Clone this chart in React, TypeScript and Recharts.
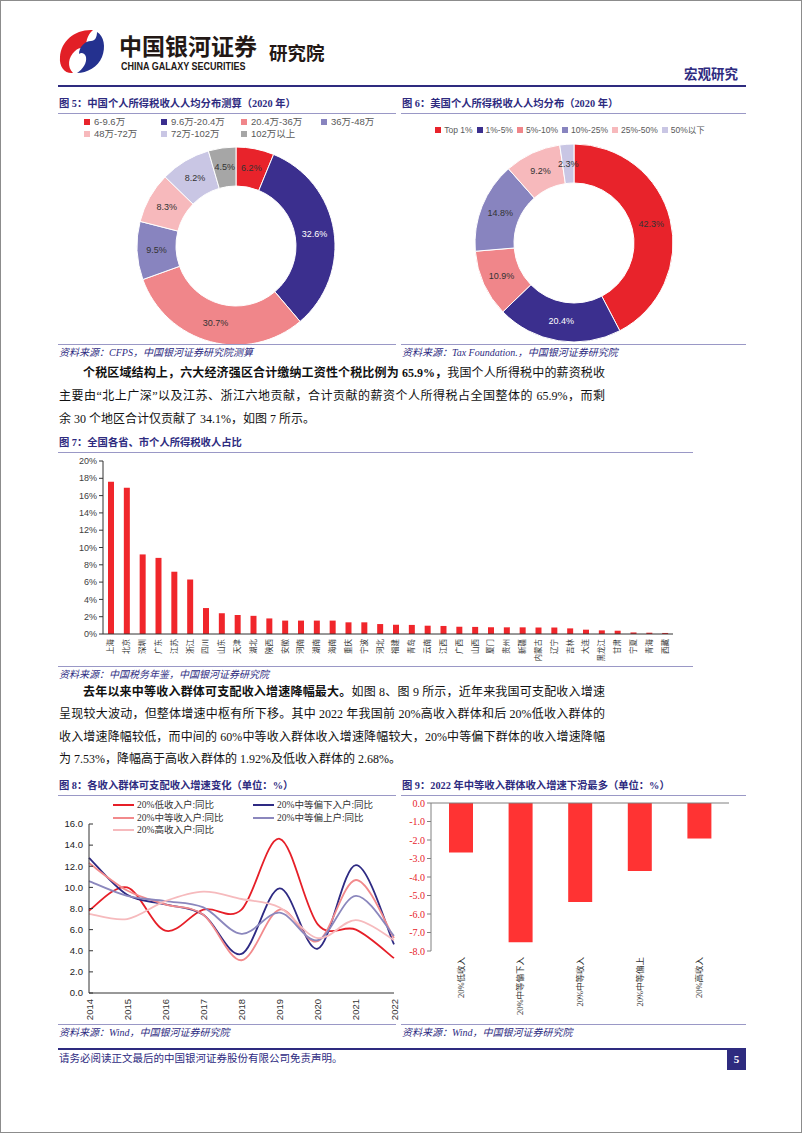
import React from "react";
import { PieChart, Pie, Cell, BarChart, Bar, XAxis, YAxis, LineChart, Line, ReferenceLine } from "recharts";

// 图5 / 图6 donut data
const cnBrackets = ["6-9.6万", "9.6万-20.4万", "20.4万-36万", "36万-48万", "48万-72万", "72万-102万", "102万以上"];
const cnShares = [6.2, 32.6, 30.7, 9.5, 8.3, 8.2, 4.5];
const usBrackets = ["Top 1%", "1%-5%", "5%-10%", "10%-25%", "25%-50%", "50%以下"];
const usShares = [42.3, 20.4, 10.9, 14.8, 9.2, 2.3];
const pieColors = ["#e8232b", "#3b2f8e", "#f0868a", "#8884bf", "#f7b9bc", "#c9c6e4", "#a6a6a6"];

// 图7 regional share of individual income tax (%)
const regions = [
  "上海", "北京", "深圳", "广东", "江苏", "浙江", "四川", "山东", "天津", "湖北", "陕西", "安徽",
  "河南", "湖南", "海南", "重庆", "宁波", "河北", "福建", "青岛", "云南", "江西", "广西", "山西",
  "厦门", "贵州", "新疆", "内蒙古", "辽宁", "吉林", "大连", "黑龙江", "甘肃", "宁夏", "青海", "西藏",
];
const regionShares = [
  17.6, 16.9, 9.2, 8.8, 7.2, 6.3, 3.0, 2.4, 2.2, 2.1, 1.8, 1.55,
  1.55, 1.55, 1.55, 1.35, 1.35, 1.15, 1.07, 1.05, 0.96, 0.93, 0.84, 0.82,
  0.78, 0.77, 0.77, 0.75, 0.75, 0.65, 0.5, 0.42, 0.38, 0.18, 0.15, 0.12,
];
const regionTicks = [0, 2, 4, 6, 8, 10, 12, 14, 16, 18, 20];

// 图8 disposable income growth by quintile (%)
const years = ["2014", "2015", "2016", "2017", "2018", "2019", "2020", "2021", "2022"];
const lowIncome = [7.8, 10.0, 5.9, 7.9, 7.9, 14.6, 6.5, 6.0, 3.3];
const lowerMiddle = [12.8, 9.3, 8.4, 7.4, 3.7, 9.9, 4.2, 12.1, 4.6];
const middleIncome = [12.3, 9.7, 8.4, 7.4, 3.1, 7.9, 4.9, 10.7, 5.2];
const upperMiddle = [10.6, 9.2, 8.7, 8.1, 5.6, 7.6, 5.0, 9.2, 5.4];
const highIncome = [7.5, 7.0, 8.7, 9.6, 8.9, 8.1, 5.2, 6.9, 5.0];
const growthTicks = [0, 2, 4, 6, 8, 10, 12, 14, 16];

// 图9 2022 change in growth (pct pts)
const groups = ["20%低收入", "20%中等偏下入", "20%中等收入", "20%中等偏上", "20%高收入"];
const declines = [-2.68, -7.53, -5.35, -3.68, -1.92];
const declineTicks = [0, -1, -2, -3, -4, -5, -6, -7, -8];

const NAVY = "#2e2b7f";
const SERIF = '"Liberation Serif", "Noto Sans CJK SC", serif';
const SANS = 'Arial, "Liberation Sans", "Noto Sans CJK SC", sans-serif';
const CJK = '"Noto Sans CJK SC", sans-serif';
const RULE = "#9a98c6";

const lineSeries = [
  { key: "low", name: "20%低收入户:同比", values: lowIncome, color: "#e61f28" },
  { key: "lowerMid", name: "20%中等偏下入户:同比", values: lowerMiddle, color: "#2e2a83" },
  { key: "mid", name: "20%中等收入户:同比", values: middleIncome, color: "#f28a8c" },
  { key: "upperMid", name: "20%中等偏上户:同比", values: upperMiddle, color: "#8b87bd" },
  { key: "high", name: "20%高收入户:同比", values: highIncome, color: "#f6babd" },
];

// Excel-like smoothed line (Catmull-Rom through the points)
const excelSmooth = (context: any) => {
  let pts: number[][] = [];
  return {
    areaStart() {},
    areaEnd() {},
    lineStart() {
      pts = [];
    },
    point(x: number, y: number) {
      pts.push([+x, +y]);
    },
    lineEnd() {
      if (!pts.length) return;
      context.moveTo(pts[0][0], pts[0][1]);
      for (let i = 0; i < pts.length - 1; i++) {
        const p0 = pts[i - 1] || pts[i];
        const p1 = pts[i];
        const p2 = pts[i + 1];
        const p3 = pts[i + 2] || p2;
        context.bezierCurveTo(
          p1[0] + (p2[0] - p0[0]) / 6,
          p1[1] + (p2[1] - p0[1]) / 6,
          p2[0] - (p3[0] - p1[0]) / 6,
          p2[1] - (p3[1] - p1[1]) / 6,
          p2[0],
          p2[1]
        );
      }
    },
  };
};

// labels sit in the middle of the ring; white on the dark navy slice
const renderPieLabel = (p: any) => {
  const rad = Math.PI / 180;
  const r = (p.innerRadius + p.outerRadius) / 2;
  const x = p.cx + r * Math.cos(-p.midAngle * rad);
  const y = p.cy + r * Math.sin(-p.midAngle * rad);
  const onDark = p.index === 1;
  return (
    <text x={x} y={y} textAnchor="middle" dominantBaseline="central" fontSize={9} fill={onDark ? "#fff" : "#333"} fontFamily={SANS}>
      {Number(p.value).toFixed(1)}%
    </text>
  );
};

const VerticalTick = ({ x, y, payload, size, gap, font }: any) => (
  <text
    transform={`translate(${x},${y + gap}) rotate(-90)`}
    textAnchor="end"
    dominantBaseline="central"
    fontSize={size}
    fill="#333"
    fontFamily={font}
  >
    {payload.value}
  </text>
);

const abs = (left: number, top: number, extra: React.CSSProperties = {}): React.CSSProperties => ({
  position: "absolute",
  left,
  top,
  ...extra,
});

function FigTitle({ x, y, w, text }: { x: number; y: number; w: number; text: string }) {
  return (
    <>
      <div style={abs(x + 1, y - 8, { fontSize: 10.3, fontWeight: 700, color: NAVY, fontFamily: SERIF, whiteSpace: "nowrap", lineHeight: "16px" })}>
        {text}
      </div>
      <div style={abs(x, y + 9, { width: w, height: 1, background: RULE })} />
    </>
  );
}

function Source({ x, y, w, text }: { x: number; y: number; w: number; text: string }) {
  return (
    <>
      <div style={abs(x, y - 9, { width: w, height: 1, background: RULE })} />
      <div style={abs(x + 1, y - 7, { fontSize: 10, fontStyle: "italic", color: NAVY, fontFamily: SERIF, whiteSpace: "nowrap", lineHeight: "14px" })}>
        {text}
      </div>
    </>
  );
}

function TextRow({ y, justify, indent, children }: { y: number; justify?: boolean; indent?: boolean; children: React.ReactNode }) {
  return (
    <div
      style={abs(58, y - 8, {
        width: 546,
        fontSize: 12,
        lineHeight: "16px",
        fontFamily: SERIF,
        color: "#111",
        whiteSpace: "nowrap",
        textIndent: indent ? 24 : 0,
        textAlign: justify ? "justify" : "left",
        textAlignLast: justify ? "justify" : "left",
      })}
    >
      {children}
    </div>
  );
}

function Logo() {
  return (
    <svg width={50} height={48} viewBox="0 0 50 48" style={abs(56, 26)}>
      <path d="M36 3 C18 2 4 14 3 30 C2 40 8 47 16 46 C10 40 11 30 18 24 C22 20 27 20 30 22 C28 16 30 8 36 3 Z" fill="#e21f26" />
      <path d="M40 5 C47 9 49 20 45 30 C41 40 30 46 20 46 C26 42 30 36 29 30 C28 26 24 25 22 27 C22 20 28 14 34 14 C38 14 40 10 40 5 Z" fill="#24318f" />
    </svg>
  );
}

export default function App() {
  const cnData = cnBrackets.map((name, i) => ({ name, value: cnShares[i] }));
  const usData = usBrackets.map((name, i) => ({ name, value: usShares[i] }));
  const regionData = regions.map((name, i) => ({ name, value: regionShares[i] }));
  const growthData = years.map((year, i) => {
    const row: Record<string, string | number> = { year };
    lineSeries.forEach((s) => (row[s.key] = s.values[i]));
    return row;
  });
  const declineData = groups.map((name, i) => ({ name, value: declines[i] }));

  return (
    <div style={abs(0, 0, { width: 802, height: 1133, background: "#fff", overflow: "hidden", boxSizing: "border-box", border: "1px solid #8c8c8c" })}>
      {/* header */}
      <Logo />
      <div style={abs(118, 31, { fontSize: 23, fontWeight: 700, color: "#231815", fontFamily: CJK, lineHeight: "27px" })}>
        中国银河证券
      </div>
      <div style={abs(120, 60, { fontSize: 10, fontWeight: 700, color: "#231815", fontFamily: SANS, lineHeight: "11px", transform: "scaleX(0.9)", transformOrigin: "left" })}>
        CHINA GALAXY SECURITIES
      </div>
      <div style={abs(268, 38, { fontSize: 18.5, fontWeight: 700, color: "#231815", fontFamily: CJK, lineHeight: "26px" })}>
        研究院
      </div>
      <div style={abs(683, 63, { fontSize: 13.5, fontWeight: 700, color: NAVY, fontFamily: CJK, lineHeight: "18px" })}>
        宏观研究
      </div>
      <div style={abs(57, 84, { width: 688, height: 1.5, background: NAVY })} />

      {/* 图5 */}
      <FigTitle x={57} y={103} w={338} text="图 5：中国个人所得税收人人均分布测算（2020 年）" />
      {cnBrackets.map((name, i) => (
        <div key={name} style={abs([83, 160, 240, 320][i % 4], i < 4 ? 115 : 127, { display: "flex", alignItems: "center", fontSize: 9.5, color: "#595959", fontFamily: SANS, lineHeight: "12px", whiteSpace: "nowrap" })}>
          <span style={{ width: 6, height: 6, background: pieColors[i], marginRight: 4, display: "inline-block" }} />
          {name}
        </div>
      ))}
      <div style={abs(60, 135)}>
        <PieChart width={340} height={210}>
          <Pie data={cnData} dataKey="value" cx={170} cy={105} innerRadius={60} outerRadius={99} startAngle={90} endAngle={-270}
            stroke="#fff" strokeWidth={1} label={renderPieLabel} labelLine={false} isAnimationActive={false}>
            {cnData.map((d, i) => (
              <Cell key={d.name} fill={pieColors[i]} />
            ))}
          </Pie>
        </PieChart>
      </div>

      {/* 图6 */}
      <FigTitle x={400} y={103} w={345} text="图 6：美国个人所得税收人人均分布（2020 年）" />
      <div style={abs(406, 123, { width: 326, display: "flex", justifyContent: "center", gap: 4, fontSize: 8.5, color: "#595959", fontFamily: SANS, lineHeight: "12px", whiteSpace: "nowrap" })}>
        {usBrackets.map((name, i) => (
          <span key={name} style={{ display: "flex", alignItems: "center" }}>
            <span style={{ width: 6, height: 6, background: pieColors[i], marginRight: 3, display: "inline-block" }} />
            {name}
          </span>
        ))}
      </div>
      <div style={abs(400, 135)}>
        <PieChart width={340} height={210}>
          <Pie data={usData} dataKey="value" cx={168} cy={102} innerRadius={60} outerRadius={99} startAngle={90} endAngle={-270}
            stroke="#fff" strokeWidth={1} label={renderPieLabel} labelLine={false} isAnimationActive={false}>
            {usData.map((d, i) => (
              <Cell key={d.name} fill={pieColors[i]} />
            ))}
          </Pie>
        </PieChart>
      </div>

      <Source x={57} y={352} w={338} text="资料来源：CFPS，中国银河证券研究院测算" />
      <Source x={400} y={352} w={345} text="资料来源：Tax Foundation.，中国银河证券研究院" />

      {/* paragraph 1 */}
      <TextRow y={372} justify indent>
        <b>个税区域结构上，六大经济强区合计缴纳工资性个税比例为 65.9%，</b>我国个人所得税中的薪资税收
      </TextRow>
      <TextRow y={395} justify>
        主要由“北上广深”以及江苏、浙江六地贡献，合计贡献的薪资个人所得税占全国整体的 65.9%，而剩
      </TextRow>
      <TextRow y={418}>余 30 个地区合计仅贡献了 34.1%，如图 7 所示。</TextRow>

      {/* 图7 */}
      <FigTitle x={57} y={442} w={635} text="图 7：全国各省、市个人所得税收人占比" />
      <div style={abs(55, 450)}>
        <BarChart width={625} height={215} data={regionData} margin={{ top: 10, right: 8, left: 0, bottom: 0 }}>
          <XAxis dataKey="name" interval={0} height={32} tickSize={0} tickMargin={0} tickLine={false} axisLine={{ stroke: "#333" }}
            tick={(p: any) => <VerticalTick {...p} size={7.5} gap={5} font={SERIF} />} />
          <YAxis width={47} domain={[0, 20]} ticks={regionTicks} interval={0} tickSize={4} tickMargin={2}
            tickFormatter={(v: number) => `${v}%`} axisLine={{ stroke: "#333" }} tickLine={{ stroke: "#333" }}
            tick={{ fontSize: 9, fill: "#404040", fontFamily: SANS }} />
          <Bar dataKey="value" fill="#f0262b" barSize={6} isAnimationActive={false} />
        </BarChart>
      </div>
      <Source x={57} y={674} w={635} text="资料来源：中国税务年鉴，中国银河证券研究院" />

      {/* paragraph 2 */}
      <TextRow y={691} justify indent>
        <b>去年以来中等收入群体可支配收入增速降幅最大。</b>如图 8、图 9 所示，近年来我国可支配收入增速
      </TextRow>
      <TextRow y={713} justify>
        呈现较大波动，但整体增速中枢有所下移。其中 2022 年我国前 20%高收入群体和后 20%低收入群体的
      </TextRow>
      <TextRow y={736} justify>
        收入增速降幅较低，而中间的 60%中等收入群体收入增速降幅较大，20%中等偏下群体的收入增速降幅
      </TextRow>
      <TextRow y={758}>为 7.53%，降幅高于高收入群体的 1.92%及低收入群体的 2.68%。</TextRow>

      {/* 图8 */}
      <FigTitle x={57} y={785} w={338} text="图 8：各收入群体可支配收入增速变化（单位：%）" />
      <div style={abs(55, 815)}>
        <LineChart width={345} height={210} data={growthData} margin={{ top: 8, right: 7, left: 0, bottom: 0 }}>
          <XAxis dataKey="year" interval={0} height={33} tickSize={0} tickMargin={0} tickLine={false} axisLine={{ stroke: "#333" }}
            tick={(p: any) => <VerticalTick {...p} size={9.5} gap={6} font={SANS} />} />
          <YAxis width={33} domain={[0, 16]} ticks={growthTicks} interval={0} tickSize={-4} tickMargin={10}
            tickFormatter={(v: number) => v.toFixed(1)} axisLine={{ stroke: "#333" }} tickLine={{ stroke: "#333" }}
            tick={{ fontSize: 9.5, fill: "#222", fontFamily: SANS }} />
          {lineSeries.map((s) => (
            <Line key={s.key} dataKey={s.key} name={s.name} type={excelSmooth as any} stroke={s.color} strokeWidth={1.8}
              dot={false} isAnimationActive={false} />
          ))}
        </LineChart>
      </div>
      {lineSeries.map((s, i) => (
        <div key={s.key} style={abs(i % 2 === 0 ? 112 : 252, 798 + Math.floor(i / 2) * 12.5, { display: "flex", alignItems: "center", fontSize: 9.5, color: "#333", fontFamily: SERIF, lineHeight: "12px", whiteSpace: "nowrap" })}>
          <span style={{ width: 21, height: 2, background: s.color, marginRight: 3, display: "inline-block" }} />
          {s.name}
        </div>
      ))}
      <Source x={57} y={1032} w={338} text="资料来源：Wind，中国银河证券研究院" />

      {/* 图9 */}
      <FigTitle x={400} y={785} w={345} text="图 9：2022 年中等收入群体收入增速下滑最多（单位：%）" />
      <div style={abs(395, 792)}>
        <BarChart width={350} height={232} data={declineData} margin={{ top: 10, right: 17, left: 0, bottom: 0 }}>
          <XAxis dataKey="name" interval={0} height={74} tickSize={0} tickMargin={0} tickLine={false} axisLine={false}
            tick={(p: any) => <VerticalTick {...p} size={8.5} gap={6} font={SERIF} />} />
          <YAxis width={35} domain={[-8, 0]} ticks={declineTicks} interval={0} tickSize={4} tickMargin={2}
            tickFormatter={(v: number) => v.toFixed(1)} axisLine={{ stroke: "#808080" }} tickLine={{ stroke: "#808080" }}
            tick={{ fontSize: 10, fill: "#e8232b", fontFamily: '"Liberation Serif", serif' }} />
          <ReferenceLine y={0} stroke="#808080" />
          <Bar dataKey="value" fill="#ff3333" barSize={24} isAnimationActive={false} />
        </BarChart>
      </div>
      <Source x={400} y={1032} w={345} text="资料来源：Wind，中国银河证券研究院" />

      {/* footer */}
      <div style={abs(57, 1047, { width: 688, height: 2, background: NAVY })} />
      <div style={abs(58, 1051, { fontSize: 10.5, color: NAVY, fontFamily: SERIF, lineHeight: "14px", whiteSpace: "nowrap" })}>
        请务必阅读正文最后的中国银河证券股份有限公司免责声明。
      </div>
      <div style={abs(726, 1048, { width: 19, height: 21, background: NAVY, color: "#fff", fontSize: 11, fontWeight: 700, fontFamily: SERIF, textAlign: "center", lineHeight: "21px" })}>
        5
      </div>
    </div>
  );
}
